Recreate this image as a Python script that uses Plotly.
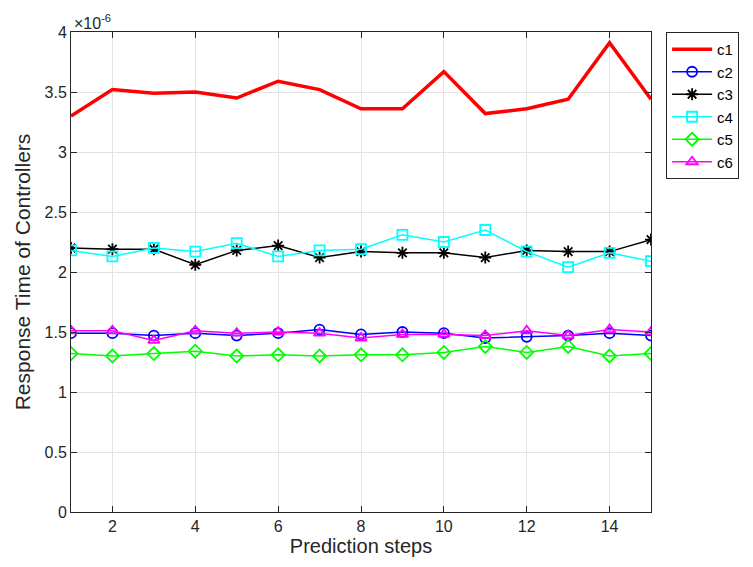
import plotly.graph_objects as go

steps = list(range(1, 16))
c1 = [3.30, 3.52, 3.49, 3.50, 3.45, 3.59, 3.52, 3.36, 3.36, 3.67, 3.32, 3.36, 3.44, 3.91, 3.44]
c2 = [1.49, 1.49, 1.47, 1.49, 1.47, 1.49, 1.52, 1.48, 1.50, 1.49, 1.45, 1.46, 1.47, 1.49, 1.47]
c3 = [2.20, 2.19, 2.19, 2.06, 2.18, 2.22, 2.12, 2.17, 2.16, 2.16, 2.12, 2.18, 2.17, 2.17, 2.27]
c4 = [2.18, 2.13, 2.20, 2.17, 2.24, 2.13, 2.18, 2.19, 2.31, 2.25, 2.35, 2.17, 2.04, 2.16, 2.09]
c5 = [1.32, 1.30, 1.32, 1.34, 1.30, 1.31, 1.30, 1.31, 1.31, 1.33, 1.38, 1.33, 1.38, 1.30, 1.32]
c6 = [1.51, 1.51, 1.43, 1.51, 1.49, 1.50, 1.49, 1.45, 1.48, 1.48, 1.47, 1.51, 1.47, 1.52, 1.50]

series = [
    ("c1", c1, "#ff0000", None, 3.5),
    ("c2", c2, "#0000ff", "circle-open", 1.5),
    ("c3", c3, "#000000", "asterisk-open", 1.5),
    ("c4", c4, "#00ffff", "square-open", 1.5),
    ("c5", c5, "#00ff00", "diamond-open", 1.5),
    ("c6", c6, "#ff00ff", "triangle-up-open", 1.5),
]

fig = go.Figure()
for name, vals, col, sym, w in series:
    if sym is None:
        fig.add_trace(go.Scatter(x=steps, y=vals, name=name, mode="lines",
                                 line=dict(color=col, width=w)))
    else:
        fig.add_trace(go.Scatter(x=steps, y=vals, name=name, mode="lines+markers",
                                 line=dict(color=col, width=w),
                                 marker=dict(symbol=sym, size=10, color=col,
                                             line=dict(color=col, width=1.8))))

axis_common = dict(showline=True, linecolor="#262626", linewidth=1, mirror="ticks",
                   ticks="inside", ticklen=6, tickcolor="#262626",
                   showgrid=True, gridcolor="#e3e3e3", gridwidth=1, zeroline=False,
                   tickfont=dict(size=16, color="#262626"))

fig.update_layout(
    width=753, height=567,
    margin=dict(l=71, r=102, t=32, b=55),
    paper_bgcolor="white", plot_bgcolor="white",
    font=dict(family="Liberation Sans, Arial, sans-serif", color="#262626"),
    xaxis=dict(range=[1, 15], tickvals=[2, 4, 6, 8, 10, 12, 14],
               title=dict(text="Prediction steps", font=dict(size=20), standoff=2),
               **axis_common),
    yaxis=dict(range=[0, 4], tickvals=[0, 0.5, 1, 1.5, 2, 2.5, 3, 3.5, 4],
               ticktext=["0", "0.5", "1", "1.5", "2", "2.5", "3", "3.5", "4"],
               title=dict(text="Response Time of Controllers", font=dict(size=21), standoff=8),
               **axis_common),
    legend=dict(x=1.026, y=1.0, xanchor="left", yanchor="top",
                bordercolor="#262626", borderwidth=1, bgcolor="white",
                font=dict(size=15, color="#000000"), tracegroupgap=0,
                itemwidth=40),
    showlegend=True,
)

fig.add_annotation(xref="paper", yref="paper", x=0.0, y=1.0, xanchor="left", yanchor="bottom",
                   text="×10<sup>-6</sup>", showarrow=False, xshift=1, yshift=-2,
                   font=dict(size=16, color="#262626"))

fig.write_html("out.html")
